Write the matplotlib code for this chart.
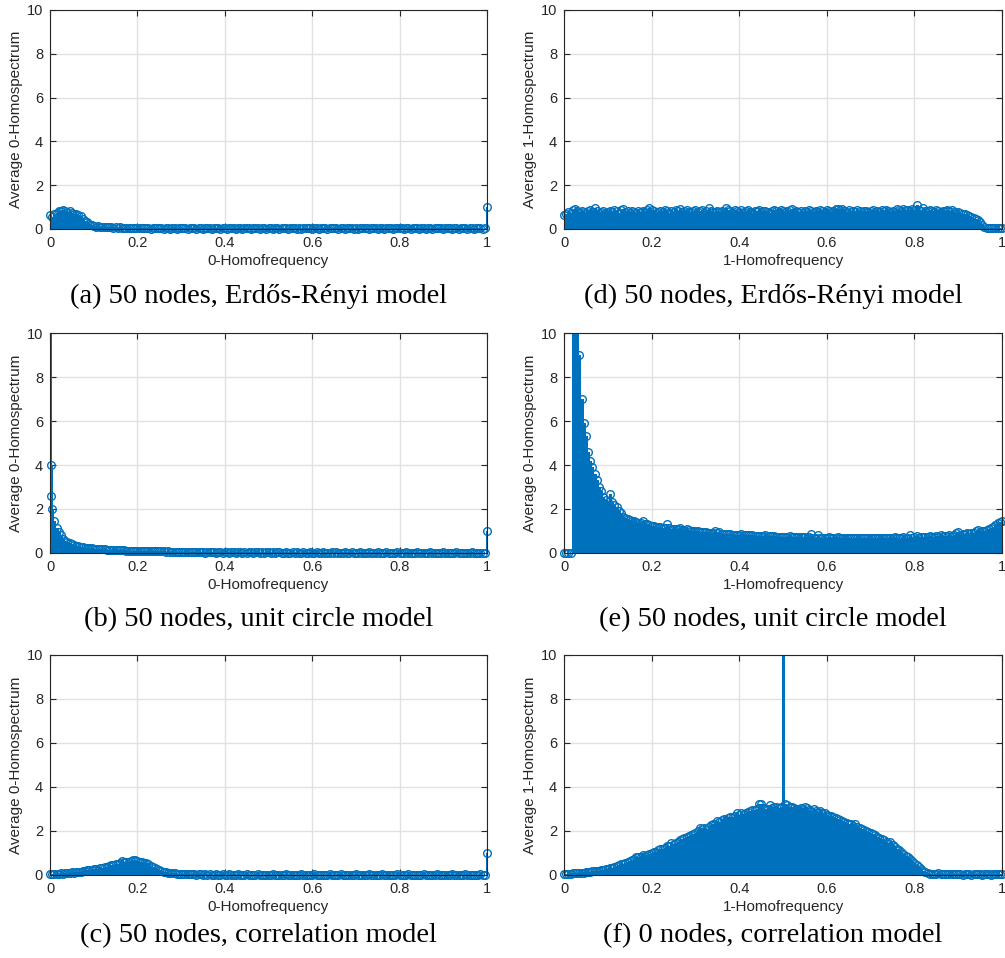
import numpy as np
import matplotlib
matplotlib.use("Agg")
import matplotlib.pyplot as plt

# ---------------- data ----------------
# shared homofrequency grid (step 0.005, 201 points)
freq = np.linspace(0.0, 1.0, 201)

x_ticks = [0, 0.2, 0.4, 0.6, 0.8, 1]
x_tick_labels = ["0", "0.2", "0.4", "0.6", "0.8", "1"]
y_ticks = [0, 2, 4, 6, 8, 10]
y_tick_labels = ["0", "2", "4", "6", "8", "10"]

# (a) 50 nodes, Erdos-Renyi, 0-homospectrum
spec_a = [
    0.62, 0.55, 0.70, 0.74, 0.80, 0.83, 0.86, 0.80, 0.77, 0.81,
    0.73, 0.70, 0.68, 0.62, 0.58, 0.46, 0.38, 0.30, 0.22, 0.16,
    0.12, 0.10, 0.13, 0.09, 0.11, 0.08, 0.10, 0.07, 0.09, 0.06,
    0.08, 0.06, 0.07, 0.05, 0.06, 0.05, 0.04, 0.06, 0.04, 0.05,
    0.04, 0.03, 0.05, 0.03, 0.04, 0.03, 0.02, 0.04, 0.03, 0.03,
    0.03, 0.04, 0.02, 0.03, 0.03, 0.02, 0.04, 0.03, 0.02, 0.03,
    0.04, 0.03, 0.03, 0.02, 0.03, 0.04, 0.03, 0.02, 0.03, 0.03,
    0.02, 0.03, 0.04, 0.03, 0.02, 0.03, 0.03, 0.04, 0.02, 0.03,
    0.03, 0.02, 0.03, 0.03, 0.04, 0.02, 0.03, 0.03, 0.02, 0.04,
    0.03, 0.03, 0.02, 0.03, 0.04, 0.03, 0.02, 0.03, 0.03, 0.02,
    0.04, 0.03, 0.02, 0.03, 0.03, 0.02, 0.03, 0.04, 0.03, 0.02,
    0.03, 0.03, 0.04, 0.02, 0.03, 0.02, 0.03, 0.03, 0.04, 0.03,
    0.02, 0.03, 0.03, 0.02, 0.04, 0.03, 0.03, 0.02, 0.03, 0.03,
    0.03, 0.04, 0.02, 0.03, 0.03, 0.02, 0.03, 0.04, 0.03, 0.02,
    0.03, 0.02, 0.03, 0.03, 0.04, 0.03, 0.02, 0.03, 0.03, 0.04,
    0.02, 0.03, 0.03, 0.02, 0.03, 0.04, 0.03, 0.02, 0.03, 0.03,
    0.04, 0.03, 0.02, 0.03, 0.03, 0.02, 0.04, 0.03, 0.03, 0.02,
    0.03, 0.03, 0.02, 0.04, 0.03, 0.02, 0.03, 0.03, 0.04, 0.03,
    0.02, 0.03, 0.03, 0.04, 0.02, 0.03, 0.03, 0.02, 0.03, 0.04,
    0.03, 0.02, 0.03, 0.03, 0.02, 0.04, 0.03, 0.03, 0.02, 0.03,
    1.00,
]

# (b) 50 nodes, unit circle, 0-homospectrum
spec_b = [
    12.0, 2.00, 1.45, 1.15, 0.95, 0.80, 0.65, 0.55, 0.50, 0.45,
    0.40, 0.36, 0.33, 0.30, 0.28, 0.26, 0.25, 0.24, 0.22, 0.21,
    0.20, 0.19, 0.18, 0.17, 0.17, 0.16, 0.15, 0.15, 0.14, 0.14,
    0.13, 0.13, 0.12, 0.12, 0.12, 0.11, 0.11, 0.11, 0.10, 0.10,
    0.10, 0.09, 0.10, 0.09, 0.09, 0.08, 0.09, 0.08, 0.08, 0.07,
    0.08, 0.07, 0.07, 0.06, 0.07, 0.06, 0.06, 0.05, 0.06, 0.05,
    0.04, 0.05, 0.04, 0.03, 0.04, 0.03, 0.04, 0.03, 0.03, 0.04,
    0.03, 0.02, 0.03, 0.04, 0.03, 0.03, 0.02, 0.03, 0.03, 0.02,
    0.03, 0.03, 0.02, 0.03, 0.04, 0.02, 0.03, 0.03, 0.02, 0.03,
    0.02, 0.03, 0.03, 0.02, 0.03, 0.03, 0.02, 0.03, 0.02, 0.03,
    0.03, 0.02, 0.03, 0.02, 0.03, 0.03, 0.02, 0.02, 0.03, 0.02,
    0.02, 0.03, 0.02, 0.03, 0.02, 0.02, 0.03, 0.02, 0.02, 0.03,
    0.02, 0.02, 0.03, 0.02, 0.02, 0.03, 0.02, 0.02, 0.02, 0.03,
    0.02, 0.03, 0.02, 0.02, 0.02, 0.03, 0.02, 0.02, 0.03, 0.02,
    0.02, 0.02, 0.03, 0.02, 0.02, 0.02, 0.03, 0.02, 0.02, 0.02,
    0.03, 0.02, 0.02, 0.02, 0.03, 0.02, 0.02, 0.02, 0.02, 0.03,
    0.02, 0.02, 0.02, 0.03, 0.02, 0.02, 0.02, 0.02, 0.03, 0.02,
    0.02, 0.02, 0.02, 0.02, 0.03, 0.02, 0.02, 0.02, 0.02, 0.02,
    0.03, 0.02, 0.02, 0.02, 0.02, 0.02, 0.03, 0.02, 0.02, 0.02,
    0.02, 0.02, 0.02, 0.03, 0.02, 0.02, 0.02, 0.02, 0.02, 0.02,
    1.00,
]
# extra stems very close to zero in (b)
extra_freq_b = [0.002, 0.003]
extra_spec_b = [4.0, 2.6]

# (c) 50 nodes, correlation model, 0-homospectrum
spec_c = [
    0.04, 0.05, 0.04, 0.06, 0.05, 0.07, 0.06, 0.08, 0.07, 0.09,
    0.12, 0.10, 0.13, 0.15, 0.14, 0.17, 0.19, 0.22, 0.21, 0.24,
    0.26, 0.28, 0.25, 0.30, 0.33, 0.35, 0.38, 0.42, 0.44, 0.47,
    0.50, 0.52, 0.55, 0.63, 0.57, 0.60, 0.58, 0.62, 0.66, 0.70,
    0.64, 0.60, 0.58, 0.56, 0.55, 0.48, 0.42, 0.38, 0.33, 0.27,
    0.22, 0.18, 0.15, 0.13, 0.11, 0.09, 0.08, 0.07, 0.06, 0.05,
    0.05, 0.04, 0.04, 0.03, 0.04, 0.03, 0.03, 0.02, 0.03, 0.03,
    0.02, 0.03, 0.02, 0.03, 0.02, 0.02, 0.03, 0.02, 0.02, 0.03,
    0.02, 0.02, 0.03, 0.02, 0.02, 0.02, 0.03, 0.02, 0.02, 0.02,
    0.03, 0.02, 0.02, 0.02, 0.02, 0.03, 0.02, 0.02, 0.02, 0.02,
    0.02, 0.02, 0.03, 0.02, 0.02, 0.02, 0.02, 0.02, 0.03, 0.02,
    0.02, 0.02, 0.02, 0.02, 0.02, 0.03, 0.02, 0.02, 0.02, 0.02,
    0.02, 0.03, 0.02, 0.02, 0.02, 0.02, 0.02, 0.02, 0.03, 0.02,
    0.02, 0.02, 0.02, 0.03, 0.02, 0.02, 0.02, 0.02, 0.02, 0.02,
    0.03, 0.02, 0.02, 0.02, 0.02, 0.02, 0.03, 0.02, 0.02, 0.02,
    0.02, 0.02, 0.03, 0.02, 0.02, 0.02, 0.02, 0.02, 0.02, 0.03,
    0.02, 0.02, 0.02, 0.02, 0.03, 0.02, 0.02, 0.02, 0.02, 0.02,
    0.02, 0.03, 0.02, 0.02, 0.02, 0.02, 0.02, 0.03, 0.02, 0.02,
    0.02, 0.02, 0.02, 0.02, 0.03, 0.02, 0.02, 0.02, 0.02, 0.02,
    0.03, 0.02, 0.02, 0.02, 0.02, 0.02, 0.02, 0.03, 0.02, 0.02,
    1.00,
]

# (d) 50 nodes, Erdos-Renyi, 1-homospectrum
spec_d = [
    0.62, 0.70, 0.78, 0.74, 0.85, 0.92, 0.80, 0.76, 0.83, 0.78,
    0.74, 0.80, 0.86, 0.77, 0.95, 0.82, 0.75, 0.79, 0.84, 0.73,
    0.78, 0.82, 0.76, 0.88, 0.80, 0.74, 0.86, 0.90, 0.77, 0.81,
    0.75, 0.83, 0.79, 0.72, 0.84, 0.78, 0.82, 0.76, 0.85, 0.98,
    0.88, 0.80, 0.74, 0.79, 0.83, 0.77, 0.86, 0.81, 0.75, 0.84,
    0.78, 0.88, 0.80, 0.92, 0.77, 0.83, 0.86, 0.79, 0.76, 0.82,
    0.85, 0.78, 0.81, 0.87, 0.74, 0.80, 0.95, 0.83, 0.77, 0.79,
    0.84, 0.76, 0.82, 0.78, 0.96, 0.86, 0.80, 0.75, 0.89, 0.81,
    0.79, 0.85, 0.77, 0.82, 0.88, 0.78, 0.74, 0.83, 0.80, 0.86,
    0.77, 0.81, 0.84, 0.79, 0.75, 0.83, 0.87, 0.80, 0.78, 0.85,
    0.82, 0.76, 0.80, 0.86, 0.93, 0.79, 0.84, 0.77, 0.81, 0.75,
    0.83, 0.78, 0.85, 0.80, 0.76, 0.84, 0.79, 0.87, 0.82, 0.78,
    0.88, 0.81, 0.77, 0.84, 0.90, 0.93, 0.86, 0.92, 0.80, 0.78,
    0.85, 0.79, 0.83, 0.77, 0.86, 0.81, 0.78, 0.84, 0.80, 0.76,
    0.82, 0.86, 0.79, 0.83, 0.77, 0.85, 0.80, 0.88, 0.81, 0.78,
    0.84, 0.79, 0.92, 0.86, 0.81, 0.93, 0.85, 0.89, 0.83, 0.92,
    0.88, 1.08, 0.86, 0.82, 0.97, 0.84, 0.80, 0.87, 0.83, 0.79,
    0.85, 0.81, 0.78, 0.84, 0.80, 0.88, 0.82, 0.86, 0.79, 0.75,
    0.78, 0.74, 0.70, 0.68, 0.64, 0.58, 0.54, 0.50, 0.45, 0.40,
    0.34, 0.20, 0.10, 0.06, 0.05, 0.04, 0.05, 0.04, 0.03, 0.04,
    0.05,
]

# (e) 50 nodes, unit circle, 1-homospectrum
spec_e = [
    0.00, 0.00, 0.00, 0.00, 12.0, 12.0, 12.0, 9.00, 7.00, 5.90,
    5.30, 4.60, 4.20, 3.90, 3.60, 3.30, 3.00, 2.80, 2.55, 2.40,
    2.30, 2.70, 2.30, 2.20, 2.10, 1.90, 1.80, 1.65, 1.60, 1.55,
    1.50, 1.47, 1.44, 1.40, 1.38, 1.36, 1.45, 1.32, 1.30, 1.28,
    1.25, 1.22, 1.20, 1.18, 1.16, 1.15, 1.13, 1.30, 1.12, 1.10,
    1.09, 1.08, 1.07, 1.15, 1.06, 1.05, 1.10, 1.03, 1.02, 1.00,
    0.99, 0.98, 0.97, 0.96, 0.95, 0.94, 0.93, 0.92, 0.91, 1.00,
    0.90, 0.95, 0.88, 0.87, 0.86, 0.86, 0.85, 0.84, 0.84, 0.83,
    0.83, 0.88, 0.82, 0.81, 0.81, 0.80, 0.84, 0.79, 0.79, 0.78,
    0.78, 0.77, 0.80, 0.77, 0.76, 0.76, 0.78, 0.75, 0.75, 0.74,
    0.74, 0.74, 0.73, 0.76, 0.73, 0.72, 0.72, 0.74, 0.71, 0.71,
    0.71, 0.70, 0.72, 0.88, 0.70, 0.70, 0.82, 0.69, 0.70, 0.69,
    0.69, 0.72, 0.68, 0.70, 0.68, 0.74, 0.68, 0.68, 0.70, 0.67,
    0.67, 0.70, 0.67, 0.67, 0.68, 0.67, 0.66, 0.69, 0.67, 0.66,
    0.67, 0.66, 0.68, 0.66, 0.67, 0.66, 0.68, 0.67, 0.66, 0.68,
    0.67, 0.72, 0.68, 0.70, 0.69, 0.74, 0.68, 0.70, 0.80, 0.70,
    0.71, 0.76, 0.70, 0.72, 0.71, 0.73, 0.72, 0.78, 0.74, 0.73,
    0.76, 0.74, 0.80, 0.76, 0.78, 0.77, 0.82, 0.79, 0.80, 0.92,
    0.96, 0.84, 0.86, 0.85, 0.90, 0.88, 0.92, 0.90, 0.98, 1.05,
    0.96, 1.00, 1.02, 1.05, 1.08, 1.12, 1.20, 1.28, 1.35, 1.40,
    1.45,
]

# (f) 0 nodes, correlation model, 1-homospectrum
spec_f = [
    0.05, 0.05, 0.06, 0.06, 0.07, 0.07, 0.08, 0.09, 0.10, 0.11,
    0.12, 0.13, 0.14, 0.16, 0.17, 0.19, 0.20, 0.22, 0.24, 0.26,
    0.28, 0.30, 0.33, 0.36, 0.40, 0.44, 0.48, 0.52, 0.56, 0.60,
    0.64, 0.68, 0.72, 0.82, 0.80, 0.84, 0.90, 0.88, 0.92, 0.96,
    1.00, 1.03, 1.06, 1.12, 1.20, 1.16, 1.22, 1.30, 1.34, 1.45,
    1.40, 1.46, 1.52, 1.58, 1.64, 1.68, 1.72, 1.78, 1.84, 1.88,
    1.92, 2.00, 2.15, 2.10, 2.14, 2.10, 2.20, 2.26, 2.30, 2.34,
    2.45, 2.40, 2.50, 2.55, 2.52, 2.60, 2.65, 2.62, 2.70, 2.84,
    2.72, 2.80, 2.76, 2.82, 2.86, 2.90, 2.94, 2.96, 3.00, 3.24,
    3.22, 3.05, 3.02, 3.00, 3.20, 3.05, 3.08, 3.10, 3.06, 3.08,
    12.0, 3.25, 3.20, 3.10, 3.08, 3.05, 3.02, 3.00, 3.06, 2.98,
    3.08, 3.04, 2.95, 2.92, 2.98, 2.90, 2.86, 2.92, 2.84, 2.80,
    2.74, 2.70, 2.66, 2.62, 2.58, 2.54, 2.50, 2.46, 2.42, 2.38,
    2.34, 2.30, 2.25, 2.32, 2.20, 2.14, 2.10, 2.06, 2.02, 1.96,
    1.92, 1.86, 1.80, 1.74, 1.70, 1.64, 1.58, 1.52, 1.46, 1.50,
    1.36, 1.28, 1.20, 1.12, 1.04, 0.96, 0.88, 0.80, 0.72, 0.64,
    0.56, 0.46, 0.36, 0.26, 0.18, 0.12, 0.08, 0.06, 0.05, 0.04,
    0.04, 0.08, 0.04, 0.03, 0.03, 0.03, 0.03, 0.03, 0.03, 0.03,
    0.03, 0.03, 0.02, 0.03, 0.03, 0.03, 0.02, 0.03, 0.03, 0.03,
    0.03, 0.02, 0.03, 0.03, 0.03, 0.02, 0.03, 0.03, 0.03, 0.03,
    0.03,
]

captions = [
    "(a) 50 nodes, Erdős-Rényi model",
    "(b) 50 nodes, unit circle model",
    "(c) 50 nodes, correlation model",
    "(d) 50 nodes, Erdős-Rényi model",
    "(e) 50 nodes, unit circle model",
    "(f) 0 nodes, correlation model",
]
xlabels = ["0-Homofrequency"] * 3 + ["1-Homofrequency"] * 3
ylabels = ["Average 0-Homospectrum"] * 3 + [
    "Average 1-Homospectrum", "Average 0-Homospectrum", "Average 1-Homospectrum"]

# ---------------- style ----------------
BLUE = "#0072BD"
DARK = "#262626"
W, H = 1005, 958
fig = plt.figure(figsize=(W / 100, H / 100), dpi=100)

col_left = [50, 564]
col_width = [437, 438]
row_top = [10, 333, 655]
row_height = [219, 220, 220]
caption_y = [296, 620, 936]
caption_shift = -10
YMAX = 10

series = [
    (freq, spec_a),
    (np.concatenate([freq, extra_freq_b]), spec_b + extra_spec_b),
    (freq, spec_c),
    (freq, spec_d),
    (freq, spec_e),
    (freq, spec_f),
]

for k in range(6):
    col, row = k // 3, k % 3
    l = col_left[col] / W
    b = 1 - (row_top[row] + row_height[row]) / H
    ax = fig.add_axes([l, b, col_width[col] / W, row_height[row] / H])
    x, y = series[k]
    x = np.asarray(x, dtype=float)
    y = np.asarray(y, dtype=float)
    ml, sl, bl = ax.stem(x, y, linefmt="-", markerfmt="o", basefmt="-")
    bl.set_visible(False)
    sl.set_color(BLUE)
    # isolated off-scale stems are drawn as thin single lines
    widths = np.full(len(y), 2.0)
    for i in range(len(y)):
        if y[i] > YMAX:
            left_big = i > 0 and y[i - 1] > YMAX
            right_big = i + 1 < len(y) and y[i + 1] > YMAX
            if not (left_big or right_big):
                widths[i] = 1.0
    sl.set_linewidths(widths)
    sl.set_antialiased(False)
    ml.set_markerfacecolor("none")
    ml.set_markeredgecolor(BLUE)
    ml.set_markersize(5.5)
    ml.set_markeredgewidth(1.0)
    ml.set_markevery(list(np.where(y <= YMAX)[0]))
    ml.set_clip_on(False)

    ax.set_xlim(0, 1)
    ax.set_ylim(0, YMAX)
    ax.set_xticks(x_ticks)
    ax.set_xticklabels(x_tick_labels)
    ax.set_yticks(y_ticks)
    ax.set_yticklabels(y_tick_labels)
    ax.set_axisbelow(True)
    ax.grid(True, color="#e1e1e1", linewidth=1.0)
    ax.tick_params(direction="in", length=4, width=0.8, colors=DARK,
                   top=True, right=True, labelsize=10.5, pad=5)
    for lab in ax.get_xticklabels() + ax.get_yticklabels():
        lab.set_fontfamily("Liberation Sans")
    for s in ax.spines.values():
        s.set_color(DARK)
        s.set_linewidth(0.8)
    ax.set_xlabel(xlabels[k], fontsize=11, family="Liberation Sans",
                  color=DARK, labelpad=3)
    ax.set_ylabel(ylabels[k], fontsize=11, family="Liberation Sans",
                  color=DARK, labelpad=3)
    cx = (col_left[col] + col_width[col] / 2 + caption_shift) / W
    fig.text(cx, 1 - caption_y[row] / H, captions[k], ha="center", va="center",
             fontsize=20.5, family="Liberation Serif", color="black")

fig.savefig("out.png", dpi=100)
